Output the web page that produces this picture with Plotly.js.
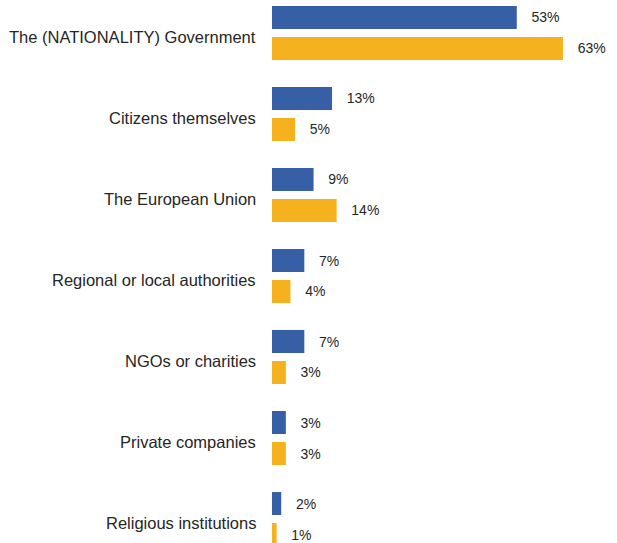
<!DOCTYPE html>
<html><head><meta charset="utf-8">
<script src="https://cdn.plot.ly/plotly-3.0.1.min.js"></script>
<style>html,body{margin:0;padding:0;background:#fff}</style>
</head><body><div id="chart" style="width:617px;height:543px"></div>
<script>
const categories = ["The (NATIONALITY) Government","Citizens themselves","The European Union","Regional or local authorities","NGOs or charities","Private companies","Religious institutions"];
const seriesBlue = [53,13,9,7,7,3,2];
const seriesOrange = [63,5,14,4,3,3,1];

const common = {type:'bar', orientation:'h', y:categories, textposition:'outside', cliponaxis:false,
  texttemplate:'   %{x}%', textfont:{family:'Liberation Sans, Arial, sans-serif', size:14, color:'#262626'}, hoverinfo:'none'};
const traces = [
  Object.assign({}, common, {x:seriesBlue, marker:{color:'#365fa5'}}),
  Object.assign({}, common, {x:seriesOrange, marker:{color:'#f6b11f'}})
];
const annotations = categories.map(c => ({xref:'paper', x:0, xanchor:'right', xshift:-14, yref:'y', y:c, yshift:-4,
  text:c, showarrow:false, font:{family:'Liberation Sans, Arial, sans-serif', size:16.5, color:'#262626'}}));
const layout = {
  width:617, height:543, margin:{l:272, r:0, t:0, b:0},
  paper_bgcolor:'#fff', plot_bgcolor:'#fff', showlegend:false,
  barmode:'group', bargap:0.235, bargroupgap:0.258,
  xaxis:{range:[0,74.7], visible:false, fixedrange:true},
  yaxis:{type:'category', categoryarray:categories, range:[6.296,-0.407], showticklabels:false, showgrid:false, zeroline:false, showline:false, ticks:''},
  annotations:annotations
};
Plotly.newPlot('chart', traces, layout, {displayModeBar:false, staticPlot:true});
</script></body></html>
